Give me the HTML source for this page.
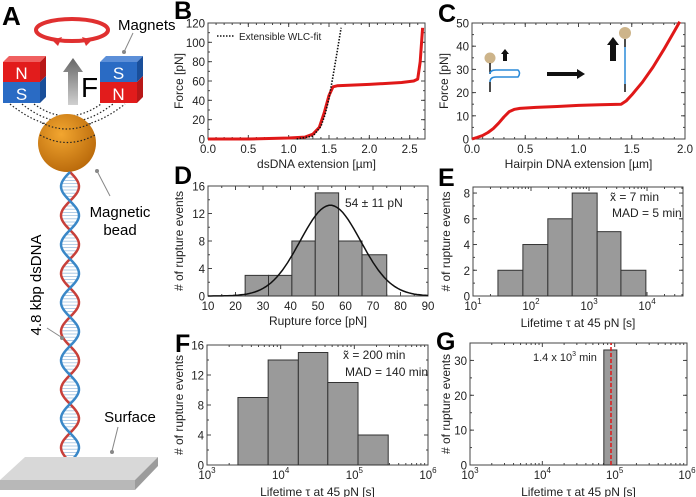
<!DOCTYPE html>
<html><head><meta charset="utf-8"><style>
html,body{margin:0;padding:0;background:#fff;}
svg{display:block;font-family:"Liberation Sans",sans-serif;}
</style></head><body>
<svg id="fig" width="696" height="497" viewBox="0 0 696 497">
<defs>
<radialGradient id="beadG" cx="0.4" cy="0.35" r="0.7"><stop offset="0" stop-color="#f2a630"/><stop offset="1" stop-color="#b8680a"/></radialGradient>
<linearGradient id="arrG" x1="0" y1="1" x2="0" y2="0"><stop offset="0" stop-color="#d0d0d0"/><stop offset="1" stop-color="#666"/></linearGradient>
</defs>
<g id="panelA">
<text x="2" y="25" font-size="26" font-weight="bold">A</text>
<ellipse cx="72" cy="30" rx="36" ry="11" fill="none" stroke="#e03030" stroke-width="4"/>
<polygon points="52,40 62,37 58,46" fill="#e03030"/><polygon points="92,40 82,37 86,46" fill="#e03030"/>
<text x="118" y="30" font-size="15">Magnets</text>
<line x1="133" y1="33" x2="124" y2="52" stroke="#888"/><circle cx="124" cy="52" r="2" fill="#888"/>
<g>
<polygon points="3,62 9,56 46,56 40,62" fill="#f06060"/>
<polygon points="40,62 46,56 46,76 40,82" fill="#b81818"/><polygon points="40,82 46,76 46,97 40,103" fill="#1a4f9a"/>
<rect x="3" y="62" width="37" height="20" fill="#e21c1c"/><rect x="3" y="82" width="37" height="21" fill="#2a6bc4"/>
<text x="21.5" y="79" font-size="17" fill="#fff" text-anchor="middle">N</text><text x="21.5" y="100" font-size="17" fill="#fff" text-anchor="middle">S</text></g>
<g>
<polygon points="100,62 106,56 143,56 137,62" fill="#5c8fd8"/>
<polygon points="137,62 143,56 143,76 137,82" fill="#1a4f9a"/><polygon points="137,82 143,76 143,97 137,103" fill="#b81818"/>
<rect x="100" y="62" width="37" height="20" fill="#2a6bc4"/><rect x="100" y="82" width="37" height="21" fill="#e21c1c"/>
<text x="118.5" y="79" font-size="17" fill="#fff" text-anchor="middle">S</text><text x="118.5" y="100" font-size="17" fill="#fff" text-anchor="middle">N</text></g>
<polygon points="68,105 68,72 63,72 73,58 83,72 78,72 78,105" fill="url(#arrG)"/>
<text x="81" y="97" font-size="28">F</text>
<g fill="none" stroke="#222" stroke-width="1.2" stroke-dasharray="1.5,2">
<path d="M10,104 Q67,150 125,104"/><path d="M22,104 Q67,140 113,104"/><path d="M34,104 Q67,128 101,104"/>
</g>
<circle cx="67" cy="143" r="29" fill="url(#beadG)"/>
<g fill="none" stroke="#222" stroke-width="1.2" stroke-dasharray="1.5,2"><path d="M40,135 Q67,150 95,135"/><path d="M42,123 Q67,135 92,123"/></g>
<line x1="97" y1="171" x2="110" y2="196" stroke="#888"/><circle cx="97" cy="171" r="2" fill="#888"/>
<text x="120" y="217" font-size="15" text-anchor="middle">Magnetic</text>
<text x="120" y="235" font-size="15" text-anchor="middle">bead</text>
<g id="dna"></g>
<text transform="translate(41,285) rotate(-90)" font-size="15" text-anchor="middle">4.8 kbp dsDNA</text>
<line x1="47" y1="328" x2="61" y2="337" stroke="#888"/><circle cx="62" cy="338" r="2" fill="#888"/>
<g>
<polygon points="25,457 158,457 135,480 0,480" fill="#d8d8d8"/>
<polygon points="0,480 135,480 135,490 0,490" fill="#b8b8b8"/>
<polygon points="135,480 158,457 158,466 135,490" fill="#9c9c9c"/></g>
<text x="130" y="422" font-size="15" text-anchor="middle">Surface</text>
<line x1="118" y1="427" x2="112" y2="451" stroke="#888"/><circle cx="112" cy="452" r="2" fill="#888"/>
</g>
<g id="charts"></g>
<g>
<circle cx="490" cy="58" r="5.5" fill="#cdb48a"/><line x1="490" y1="63" x2="490" y2="74" stroke="#111" stroke-width="1.5"/>
<path d="M490,74 Q490,70 496,70 L518,70 Q521,73 518,77 L496,77 Q490,77 490,82" fill="none" stroke="#2a8ad8" stroke-width="1.5"/>
<line x1="490" y1="82" x2="490" y2="92" stroke="#111" stroke-width="1.5"/>
<polygon points="503,61 503,54 501,54 505,49 509,54 507,54 507,61" fill="#111"/>
<polygon points="547,72 577,72 577,69 585,74 577,79 577,76 547,76" fill="#111"/>
<circle cx="625" cy="33" r="6" fill="#cdb48a"/><line x1="625" y1="39" x2="625" y2="47" stroke="#111" stroke-width="1.5"/>
<line x1="625" y1="47" x2="625" y2="84" stroke="#2a8ad8" stroke-width="1.5"/><line x1="625" y1="84" x2="625" y2="92" stroke="#111" stroke-width="1.5"/>
<polygon points="610,61 610,45 607,45 613,37 619,45 616,45 616,61" fill="#111"/>
</g>
</svg>
<script>
// ---- data ----
const bExt = [0,0.5,1.0,1.2,1.3,1.38,1.44,1.5,1.55,1.6,2.0,2.4,2.55,2.6,2.63,2.66];
const bForce = [0,0,1,2,5,12,27,45,54,55,56.5,58.5,60,62,80,115];
const wlcExt = [1.1,1.3,1.4,1.45,1.5,1.55,1.6,1.65];
const wlcForce = [0,3,13,25,42,65,90,115];
const cExt = [0,0.05,0.1,0.15,0.2,0.25,0.3,0.35,0.4,0.45,0.6,0.8,1.0,1.2,1.4,1.45,1.5,1.6,1.7,1.8,1.9,1.95];
const cForce = [0,0.7,1.5,2.8,4.5,6.8,9.5,11.8,12.8,13.2,13.6,14,14.5,14.8,15,16.5,19,24.5,31,38.5,46.5,50.5];
const dEdges = [23.5,32,40.5,49,57.5,66,75];
const dCounts = [3,3,8,15,8,6];
const dFitMean = 54.5, dFitSd = 11, dFitAmp = 13.2;
const eEdges = [1.43,1.86,2.29,2.71,3.14,3.55,3.98];
const eCounts = [2,4,6,8,5,2];
const fEdges = [3.42,3.83,4.24,4.64,5.05,5.46];
const fCounts = [9,14,15,11,4];
const gEdges = [4.85,5.03];
const gCounts = [33];
const gMedian = 4.95;
const bXTicks = [0,0.5,1.0,1.5,2.0,2.5], bYTicks = [0,20,40,60,80,100,120];
const cXTicks = [0,0.5,1.0,1.5,2.0], cYTicks = [0,10,20,30,40,50];
const dXTicks = [10,20,30,40,50,60,70,80,90], dYTicks = [0,4,8,12,16];
const eXTicks = [1,2,3,4], eYTicks = [0,2,4,6,8];
const fXTicks = [3,4,5,6], fYTicks = [0,4,8,12,16];
const gXTicks = [3,4,5,6], gYTicks = [0,10,20,30];

const NS="http://www.w3.org/2000/svg";
const root=document.getElementById('charts');
function mk(tag,attrs,parent){const e=document.createElementNS(NS,tag);for(const k in attrs)e.setAttribute(k,attrs[k]);(parent||root).appendChild(e);return e;}

function panel(c){
  const g=mk('g',{});
  
  
  const sx=v=>c.x0+(v-c.xmin)/(c.xmax-c.xmin)*(c.x1-c.x0);
  const sy=v=>c.y1-(v-c.ymin)/(c.ymax-c.ymin)*(c.y1-c.y0);
  c.g=g;c.sx=sx;c.sy=sy;
  return c;
}
function frame(c){
  const g=c.g,sx=c.sx,sy=c.sy;
  mk('rect',{x:c.x0,y:c.y0,width:c.x1-c.x0,height:c.y1-c.y0,fill:'none',stroke:'#444','stroke-width':1},g);
  const tk=(x1,y1,x2,y2,w)=>mk('line',{x1,y1,x2,y2,stroke:'#444','stroke-width':w||1},g);
  c.xTicks.forEach(v=>{const x=sx(v);tk(x,c.y1,x,c.y1-4);tk(x,c.y0,x,c.y0+4);
    const t=mk('text',{x:x,y:c.y1+14,'font-size':11.5,'text-anchor':'middle',fill:'#222'},g);
    
    
    if(c.log){t.textContent='10';const s=mk('tspan',{dy:-6,'font-size':8},t);s.textContent=v;}
    else t.textContent=c.xfmt?c.xfmt(v):v;
  });
  if(c.log){for(let d=Math.floor(c.xmin);d<c.xmax;d++)for(let m=2;m<10;m++){const lv=d+Math.log10(m);if(lv>c.xmin&&lv<c.xmax){const x=sx(lv);tk(x,c.y1,x,c.y1-2);tk(x,c.y0,x,c.y0+2);}}}
  else if(c.xMinor){for(let v=c.xmin;v<=c.xmax+1e-9;v+=c.xMinor){const x=sx(v);tk(x,c.y1,x,c.y1-2);tk(x,c.y0,x,c.y0+2);}}
  c.yTicks.forEach(v=>{const y=sy(v);tk(c.x0,y,c.x0+4,y);tk(c.x1,y,c.x1-4,y);
    const t=mk('text',{x:c.x0-3,y:y+4.5,'font-size':11.5,'text-anchor':'end',fill:'#222'},g);
    
    
    t.textContent=v;});
  if(c.yMinor){for(let v=c.ymin;v<=c.ymax+1e-9;v+=c.yMinor){const y=sy(v);tk(c.x0,y,c.x0+2,y);tk(c.x1,y,c.x1-2,y);}}
  const xt=mk('text',{x:(c.x0+c.x1)/2,y:c.y1+(c.log?31:29),'font-size':12,'text-anchor':'middle',fill:'#222'},g);
  
  
  xt.textContent=c.xTitle;
  const yt=mk('text',{transform:`translate(${c.ytx},${(c.y0+c.y1)/2}) rotate(-90)`,'font-size':12,'text-anchor':'middle',fill:'#222'},g);
  
  
  yt.textContent=c.yTitle;
  const pl=mk('text',{x:c.lx,y:c.ly,'font-size':25,'font-weight':'bold'},g);
  
  
  pl.textContent=c.letter;
}
function bars(c,edges,counts){
  counts.forEach((n,i)=>{const x0=c.sx(edges[i]),x1=c.sx(edges[i+1]);
    const r=mk('rect',{x:x0,y:c.sy(n),width:x1-x0,height:c.sy(0)-c.sy(n),fill:'#9a9a9a',stroke:'#333','stroke-width':1},c.g);
    
    
  });
}
function line(c,xs,ys,attrs,name){
  const d=xs.map((x,i)=>(i?'L':'M')+c.sx(x).toFixed(1)+','+c.sy(ys[i]).toFixed(1)).join('');
  const p=mk('path',Object.assign({d,fill:'none'},attrs),c.g);
  
  
}
function label(c,x,y,txt,size,name){const t=mk('text',{x,y,'font-size':size||12,fill:'#222'},c.g);t.textContent=txt;return t;}

const B=panel({name:'panel-b-force-extension',x0:208,x1:425,y0:23,y1:139,xmin:0,xmax:2.69,ymin:0,ymax:120,xTicks:bXTicks,yTicks:bYTicks,xMinor:0.1,yMinor:10,xfmt:v=>v.toFixed(1),xTitle:'dsDNA extension [µm]',yTitle:'Force [pN]',ytx:183,letter:'B',lx:174,ly:19});
frame(B);
line(B,bExt,bForce,{stroke:'#e01818','stroke-width':3,'stroke-linejoin':'round'},'dsdna-force-curve');
line(B,wlcExt,wlcForce,{stroke:'#111','stroke-width':1.6,'stroke-dasharray':'1.5,1.5'},'wlc-fit-line');
mk('line',{x1:217,y1:36,x2:235,y2:36,stroke:'#111','stroke-width':1.6,'stroke-dasharray':'1.5,1.5'},B.g);
label(B,239,40,'Extensible WLC-fit',10,'legend-wlc-fit');
const C=panel({name:'panel-c-hairpin',x0:472,x1:685,y0:23,y1:139,xmin:0,xmax:2,ymin:0,ymax:50,xTicks:cXTicks,yTicks:cYTicks,xMinor:0.1,yMinor:5,xfmt:v=>v.toFixed(1),xTitle:'Hairpin DNA extension [µm]',yTitle:'Force [pN]',ytx:448,letter:'C',lx:438,ly:22});
frame(C);
line(C,cExt,cForce,{stroke:'#e01818','stroke-width':3,'stroke-linejoin':'round'},'hairpin-force-curve');
const D=panel({name:'panel-d-rupture-force-histogram',x0:208,x1:428,y0:186,y1:296,xmin:10,xmax:90,ymin:0,ymax:16,xTicks:dXTicks,yTicks:dYTicks,xMinor:5,yMinor:2,xTitle:'Rupture force [pN]',yTitle:'# of rupture events',ytx:183,letter:'D',lx:174,ly:184});
frame(D);bars(D,dEdges,dCounts);
const gx=[],gy=[];for(let v=10;v<=90;v+=1){gx.push(v);gy.push(dFitAmp*Math.exp(-((v-dFitMean)**2)/(2*dFitSd*dFitSd)));}
line(D,gx,gy,{stroke:'#111','stroke-width':1.5},'gaussian-fit');
label(D,345,207,'54 ± 11 pN',12,'fit-annotation');
const E=panel({name:'panel-e-lifetime-histogram',x0:473,x1:683,y0:187,y1:296,xmin:1,xmax:4.62,ymin:0,ymax:8.47,log:true,xTicks:eXTicks,yTicks:eYTicks,yMinor:1,xTitle:'Lifetime τ at 45 pN [s]',yTitle:'# of rupture events',ytx:450,letter:'E',lx:438,ly:186});
frame(E);bars(E,eEdges,eCounts);
label(E,610,201,'x̃  = 7 min',12,'median-annotation');
label(E,612,217,'MAD = 5 min',12,'mad-annotation');
const F=panel({name:'panel-f-lifetime-histogram',x0:207,x1:428,y0:345,y1:465,xmin:3,xmax:6,ymin:0,ymax:16,log:true,xTicks:fXTicks,yTicks:fYTicks,yMinor:2,xTitle:'Lifetime τ at 45 pN [s]',yTitle:'# of rupture events',ytx:183,letter:'F',lx:175,ly:352});
frame(F);bars(F,fEdges,fCounts);
label(F,343,359,'x̃  = 200 min',12,'median-annotation');
label(F,345,376,'MAD = 140 min',12,'mad-annotation');
const G=panel({name:'panel-g-lifetime-histogram',x0:470,x1:687,y0:343,y1:465,xmin:3,xmax:6,ymin:0,ymax:35,log:true,xTicks:gXTicks,yTicks:gYTicks,yMinor:5,xTitle:'Lifetime τ at 45 pN [s]',yTitle:'# of rupture events',ytx:450,letter:'G',lx:436,ly:350});
frame(G);bars(G,gEdges,gCounts);
line(G,[gMedian,gMedian],[0,35],{stroke:'#e01818','stroke-width':1.5,'stroke-dasharray':'4,2'},'median-line');
const gl=label(G,533,361,'1.4 x 10',11,'median-annotation');const gs=mk('tspan',{dy:-5,'font-size':7},gl);gs.textContent='3';const gs2=mk('tspan',{dy:5},gl);gs2.textContent=' min';

const dna=document.getElementById('dna');
const cx=70,amp=9,per=58,ys=172,ye=466;
for(let y=ys+2;y<ye;y+=3.2){const w=amp*Math.abs(Math.sin((y-ys)/per*2*Math.PI))*0.9;mk('line',{x1:cx-w,y1:y,x2:cx+w,y2:y,stroke:'#9fc0e0','stroke-width':0.8},dna);}
let p1='',p2='';for(let y=ys;y<=ye;y+=2){const s=Math.sin((y-ys)/per*2*Math.PI);p1+=(y===ys?'M':'L')+(cx+amp*s)+','+y;p2+=(y===ys?'M':'L')+(cx-amp*s)+','+y;}
mk('path',{d:p1,fill:'none',stroke:'#c8403a','stroke-width':2.5},dna);
mk('path',{d:p2,fill:'none',stroke:'#3a88c8','stroke-width':2.5},dna);
</script>
</body></html>
